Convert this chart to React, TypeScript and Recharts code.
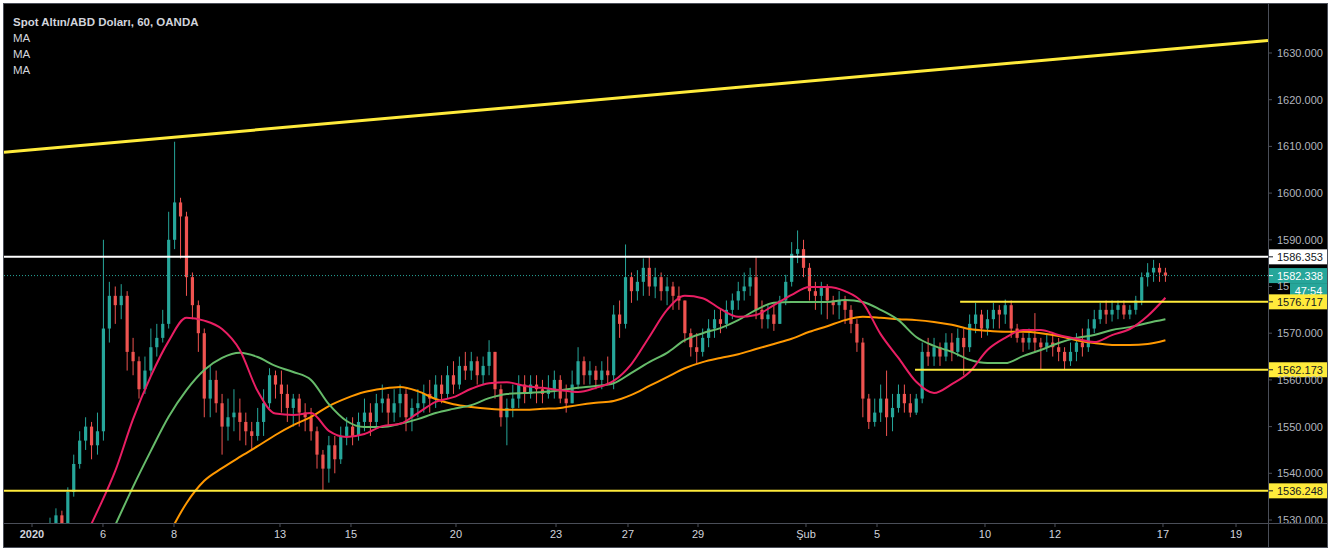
import React from 'react';
import { ComposedChart, Bar, Line, XAxis, YAxis, ReferenceLine } from 'recharts';

// ---- Data (4-hour aggregation) ----
const FIRST_OPEN = 1527;
const closes = [
  1529, 1531, 1529, 1536, 1542, 1547, 1550, 1546, 1549, 1571,
  1578, 1576, 1578, 1566, 1564, 1558, 1562, 1567, 1569, 1572,
  1590, 1598, 1595, 1582, 1576, 1570, 1556, 1560, 1555, 1550,
  1552, 1553, 1551, 1549, 1548, 1551, 1555, 1561, 1559, 1557,
  1554, 1556, 1553, 1552, 1549, 1544, 1541, 1546, 1543, 1548,
  1550, 1548, 1551, 1553, 1551, 1555, 1556, 1553, 1555, 1557,
  1552, 1554, 1555, 1557, 1556, 1559, 1557, 1561, 1559, 1563,
  1562, 1564, 1561, 1563, 1566, 1558, 1552, 1554, 1556, 1559,
  1557, 1559, 1558, 1557, 1558, 1560, 1556, 1555, 1559, 1564,
  1561, 1562, 1560, 1562, 1561, 1574, 1572, 1582, 1579, 1581,
  1584, 1580, 1582, 1579, 1580, 1578, 1577, 1570, 1567, 1566,
  1569, 1571, 1573, 1572, 1575, 1577, 1579, 1580, 1582, 1575,
  1573, 1574, 1572, 1577, 1581, 1587, 1588, 1584, 1579, 1578,
  1580, 1577, 1576, 1577, 1575, 1572, 1568, 1556, 1551, 1553,
  1556, 1552, 1554, 1557, 1555, 1553, 1556, 1566, 1565, 1567,
  1565, 1568, 1566, 1569, 1567, 1572, 1574, 1571, 1573, 1575,
  1574, 1576, 1571, 1569, 1568, 1569, 1568, 1567, 1568, 1567,
  1566, 1564, 1566, 1568, 1567, 1571, 1573, 1575, 1574, 1575,
  1576, 1574, 1575, 1577, 1582, 1583, 1584, 1583, 1582.3,
];
const highs = [
  1530.5, 1532.5, 1532, 1537, 1544, 1549, 1552, 1551, 1553, 1590,
  1581, 1580, 1580.5, 1579, 1569, 1565, 1565, 1571, 1572, 1575,
  1596, 1611, 1599, 1596, 1583, 1577, 1571, 1563, 1562, 1557,
  1556, 1558, 1556, 1553, 1551, 1554, 1558, 1562.5, 1562, 1562,
  1559, 1557, 1557, 1555, 1554, 1550, 1545, 1548, 1548, 1550,
  1552, 1552, 1553, 1556, 1555, 1557, 1559, 1557, 1558, 1559,
  1558, 1556, 1558, 1559, 1560, 1561, 1561, 1563, 1564, 1565,
  1566, 1566, 1565, 1565, 1568.5, 1566, 1559, 1556, 1559, 1561,
  1561, 1561, 1561, 1560, 1561, 1562, 1561, 1559, 1562, 1567,
  1565, 1564, 1563, 1564, 1565, 1576, 1577, 1589, 1583, 1583.5,
  1586, 1586.3, 1584, 1583, 1582, 1581, 1580, 1577, 1571, 1570,
  1571, 1573, 1575, 1575, 1577, 1578.5, 1581, 1583, 1584, 1586.3,
  1577, 1576, 1576, 1578, 1582.5, 1589.5, 1592, 1590, 1585, 1581,
  1581, 1580.5, 1578, 1579, 1578, 1576, 1573, 1569, 1557, 1556,
  1559, 1562, 1557, 1559, 1559, 1557, 1557, 1568, 1569, 1569,
  1568, 1570, 1570, 1571, 1571, 1574, 1576.5, 1575, 1575, 1576.5,
  1576, 1577.2, 1577, 1572, 1570, 1571, 1574.3, 1569, 1570, 1569.5,
  1569, 1567, 1568, 1570, 1571, 1573, 1575, 1576.5, 1577, 1577,
  1577, 1577, 1576, 1578, 1583, 1585, 1585.7, 1585, 1584,
];
const lows = [
  1525, 1527, 1526, 1528, 1535, 1541, 1545, 1543, 1544, 1547,
  1568, 1572, 1573, 1562, 1561, 1556, 1557, 1561, 1565, 1568,
  1571, 1588, 1586, 1578, 1573, 1566, 1552, 1552, 1553, 1544,
  1547, 1549, 1547, 1546, 1545, 1547, 1548, 1554, 1556, 1553,
  1551, 1550, 1550, 1549, 1547, 1541, 1536.3, 1538, 1540, 1542,
  1546, 1546, 1547, 1549, 1548, 1550, 1553, 1550, 1551, 1552,
  1549, 1549, 1552, 1553, 1553, 1554, 1555, 1556, 1557, 1558,
  1560, 1560, 1559, 1559, 1561, 1556, 1550, 1546, 1552, 1554,
  1555, 1556, 1555, 1555, 1556, 1556, 1555, 1553, 1555, 1558,
  1559, 1559, 1558, 1558, 1559, 1558, 1569, 1571, 1576.5, 1577,
  1578, 1578, 1577.5, 1577, 1576, 1575, 1575, 1568, 1565, 1563.6,
  1565, 1567, 1569, 1570, 1571, 1573, 1575, 1577, 1578, 1573,
  1571, 1571, 1570.5, 1572, 1576, 1580, 1585, 1582, 1577, 1575,
  1574, 1573, 1574, 1573, 1572, 1570, 1566, 1552, 1549.5, 1550,
  1551, 1548, 1549, 1553, 1553, 1552, 1552.5, 1555, 1563, 1563,
  1563, 1564, 1564, 1565, 1561, 1566, 1570, 1569, 1569.5, 1571,
  1571, 1572, 1569, 1568, 1566, 1566.5, 1566, 1562.1, 1566, 1565,
  1564, 1562.1, 1563, 1564, 1565, 1566, 1570, 1572, 1572, 1572.5,
  1573, 1573, 1573, 1574, 1576, 1580, 1581, 1581, 1581,
];

// Moving averages, read every 3rd bar starting at bar 2
const MA_START = 2;
const MA_STEP = 3;
const maFast = [
  null, 1524, 1531.9, 1540.5, 1551.6, 1560.8, 1568.3, 1573.3, 1572.7, 1570.9,
  1566.4, 1557.6, 1552.8, 1552.5, 1552.9, 1549.1, 1547.8, 1548.4, 1550.1, 1550.6,
  1552.9, 1555.3, 1556.3, 1558.1, 1559.3, 1559.5, 1558.7, 1558.3, 1557.8, 1557.4,
  1558.3, 1559.8, 1563.4, 1569.2, 1575.0, 1578.0, 1577.5, 1575.2, 1573.5, 1573.9,
  1576.0, 1578.2, 1579.9, 1579.9, 1579.0, 1576.5, 1569.8, 1564.7, 1559.6, 1557.2,
  1559.1, 1561.7, 1566.4, 1569.0, 1570.7, 1570.7, 1569.6, 1568.8, 1568.1, 1569.6,
  1570.9, 1573.7, 1577.6,
];
const maMid = [
  null, null, null, 1528.9, 1537.1, 1544.8, 1552.1, 1557.8, 1562.1, 1564.7,
  1565.8, 1564.9, 1563.0, 1561.7, 1560.0, 1554.8, 1551.2, 1549.9, 1549.9, 1550.6,
  1551.6, 1552.9, 1553.8, 1554.6, 1556.1, 1557.0, 1557.2, 1557.4, 1557.8, 1558.3,
  1558.7, 1559.3, 1561.5, 1563.8, 1565.8, 1568.5, 1570.0, 1571.1, 1572.8, 1575.0,
  1576.5, 1576.7, 1576.7, 1576.7, 1577.1, 1576.7, 1575.0, 1572.8, 1569.2, 1567.3,
  1566.0, 1564.3, 1563.6, 1563.6, 1565.1, 1566.4, 1567.9, 1569.0, 1569.6, 1570.7,
  1571.3, 1572.2, 1573.0,
];
const maSlow = [
  null, null, null, null, null, null, 1526.8, 1533.6, 1538.4, 1541.1,
  1543.5, 1545.8, 1548.2, 1550.3, 1552.1, 1554.4, 1556.1, 1557.4, 1558.1, 1558.5,
  1557.6, 1555.9, 1554.8, 1554.2, 1553.8, 1553.6, 1553.6, 1553.8, 1554.0, 1554.6,
  1555.1, 1555.5, 1556.8, 1558.7, 1560.6, 1562.5, 1563.8, 1564.7, 1565.5, 1566.6,
  1567.7, 1568.8, 1570.3, 1571.5, 1572.8, 1573.5, 1573.3, 1573.0, 1572.8, 1572.4,
  1571.8, 1570.9, 1570.5, 1570.3, 1570.3, 1570.0, 1569.4, 1568.5, 1567.9, 1567.5,
  1567.5, 1567.7, 1568.5,
];

// Time axis (bar units) and labels
const xTickPos = [-3.03, 8.93, 20.9, 38.77, 50.73, 68.43, 85.29, 97.42, 109.22, 127.42, 139.39, 157.59, 169.39, 187.59, 199.9];
const xTickLabels = ['2020', '6', '8', '13', '15', '20', '23', '27', '29', 'Şub', '5', '10', '12', '17', '19'];
const X_DOMAIN = [-7.75, 205.29];
const Y_DOMAIN = [1529.36, 1640.49];
const yTicks = [1530, 1540, 1550, 1560, 1570, 1580, 1590, 1600, 1610, 1620, 1630];
// price-scale tick whose label is mostly covered by the countdown tag (only "15" shows)
const yTickUnderCountdown = 1580;

// Drawn levels
const trendStart = { x: -7.75, y: 1608.76 };
const trendEnd = { x: 205.29, y: 1632.68 };
const levelResistance = 1586.353;
const levelLast = 1582.338;
const levelUpper = 1576.717;
const upperStartBar = 153.4;
const levelLower = 1562.173;
const lowerStartBar = 145.8;
const levelBase = 1536.248;
const countdown = '47:54';

const title = 'Spot Altın/ABD Doları, 60, OANDA';
const indicatorLabels = ['MA', 'MA', 'MA'];

// ---- Styles ----
const UP = '#26a69a';
const DOWN = '#ef5350';
const YELLOW = '#ffeb3b';
const FONT = '"Liberation Sans", Arial, sans-serif';
const FRAME = '#4a4e58';

const table = closes.map((c, i) => {
  const o = i === 0 ? FIRST_OPEN : closes[i - 1];
  const hi = Math.max(highs[i], o, c);
  const lo = Math.min(lows[i], o, c);
  const k = (i - MA_START) / MA_STEP;
  const onSample = Number.isInteger(k) && k >= 0;
  return {
    i,
    o,
    c,
    hi,
    lo,
    range: [lo, hi],
    fast: onSample ? maFast[k] ?? null : null,
    mid: onSample ? maMid[k] ?? null : null,
    slow: onSample ? maSlow[k] ?? null : null,
  };
});

const Candle = (props: any) => {
  const { x, y, width, height, payload } = props;
  if (!payload || x == null || y == null) return null;
  const top = Math.min(y, y + height);
  const h = Math.abs(height);
  const { o, c, hi, lo } = payload;
  const span = hi - lo || 1;
  const toY = (v: number) => top + ((hi - v) / span) * h;
  const color = c >= o ? UP : DOWN;
  const cx = x + width / 2;
  const bTop = toY(Math.max(o, c));
  const bBot = toY(Math.min(o, c));
  return (
    <g>
      <line x1={cx} x2={cx} y1={top} y2={top + h} stroke={color} strokeWidth={1} />
      <rect x={cx - 1.6} y={bTop} width={3.2} height={Math.max(1, bBot - bTop)} fill={color} />
    </g>
  );
};

const PriceTag = (props: any) => {
  const { viewBox, text, bg, fg, extra } = props;
  if (!viewBox) return null;
  const x = viewBox.x + viewBox.width;
  const y = viewBox.y;
  return (
    <g>
      <rect x={x + 1} y={y - 7.5} width={58} height={15} fill={bg} />
      <line x1={x + 1} x2={x + 5} y1={y} y2={y} stroke={fg} strokeWidth={1} />
      <text x={x + 9} y={y + 4} fontSize={11} fontFamily={FONT} fill={fg}>{text}</text>
      {extra ? (
        <g>
          <rect x={x + 22} y={y + 7.5} width={37} height={15} fill={bg} />
          <text x={x + 40.5} y={y + 19} fontSize={11} fontFamily={FONT} fill={fg} textAnchor="middle">{extra}</text>
        </g>
      ) : null}
    </g>
  );
};

const XTick = (props: any) => {
  const { x, y, payload } = props;
  const idx = xTickPos.indexOf(payload.value);
  const label = idx >= 0 ? xTickLabels[idx] : '';
  return (
    <text x={x} y={y} dy="0.72em" textAnchor="middle" fontSize={11} fontFamily={FONT}
      fontWeight={idx === 0 ? 'bold' : 'normal'} fill="#d1d4dc">{label}</text>
  );
};

const YTick = (props: any) => {
  const { x, y, payload } = props;
  const full = Number(payload.value).toFixed(3);
  // the countdown tag covers everything but the first two characters
  const label = payload.value === yTickUnderCountdown ? full.slice(0, 2) : full;
  return (
    <text x={x} y={y} dy="0.355em" textAnchor="start" fontSize={11} fontFamily={FONT} fill="#b2b5be">{label}</text>
  );
};

export default function App() {
  const W = 1323;
  const H = 543;
  return (
    <div style={{ position: 'absolute', left: 3, top: 3, width: W, height: H, border: `1px solid ${FRAME}`, background: '#000', overflow: 'hidden' }}>
      <ComposedChart width={W} height={H} data={table} margin={{ top: 0, right: 0, bottom: 0, left: 0 }}>
        <XAxis dataKey="i" type="number" domain={X_DOMAIN} allowDataOverflow ticks={xTickPos}
          height={24} axisLine={false} tickLine={{ stroke: FRAME }} tickSize={4} tickMargin={3}
          tick={<XTick />} interval={0} />
        <YAxis orientation="right" type="number" domain={Y_DOMAIN} allowDataOverflow ticks={yTicks}
          width={59} axisLine={false} tickLine={{ stroke: FRAME }} tickSize={4} tickMargin={5}
          tick={<YTick />} interval={0} />
        <Bar dataKey="range" shape={<Candle />} barSize={4} isAnimationActive={false} />
        <Line dataKey="slow" type="monotone" stroke="#ff9800" strokeWidth={2} dot={false} connectNulls isAnimationActive={false} />
        <Line dataKey="mid" type="monotone" stroke="#66bb6a" strokeWidth={2} dot={false} connectNulls isAnimationActive={false} />
        <Line dataKey="fast" type="monotone" stroke="#e91e63" strokeWidth={2} dot={false} connectNulls isAnimationActive={false} />
        <ReferenceLine segment={[trendStart, trendEnd]} stroke={YELLOW} strokeWidth={3} ifOverflow="visible" />
        <ReferenceLine y={levelLast} stroke={UP} strokeWidth={1} strokeDasharray="1 2" ifOverflow="visible"
          label={<PriceTag text={levelLast.toFixed(3)} bg={UP} fg="#ffffff" extra={countdown} />} />
        <ReferenceLine y={levelResistance} stroke="#ffffff" strokeWidth={2} ifOverflow="visible"
          label={<PriceTag text={levelResistance.toFixed(3)} bg="#ffffff" fg="#131722" />} />
        <ReferenceLine segment={[{ x: upperStartBar, y: levelUpper }, { x: X_DOMAIN[1], y: levelUpper }]} stroke={YELLOW} strokeWidth={2} ifOverflow="visible"
          label={<PriceTag text={levelUpper.toFixed(3)} bg={YELLOW} fg="#131722" />} />
        <ReferenceLine segment={[{ x: lowerStartBar, y: levelLower }, { x: X_DOMAIN[1], y: levelLower }]} stroke={YELLOW} strokeWidth={2} ifOverflow="visible"
          label={<PriceTag text={levelLower.toFixed(3)} bg={YELLOW} fg="#131722" />} />
        <ReferenceLine y={levelBase} stroke={YELLOW} strokeWidth={2} ifOverflow="visible"
          label={<PriceTag text={levelBase.toFixed(3)} bg={YELLOW} fg="#131722" />} />
      </ComposedChart>
      <div style={{ position: 'absolute', left: 1264, top: 0, width: 1, height: H, background: FRAME }} />
      <div style={{ position: 'absolute', left: 0, top: 519, width: W, height: 1, background: FRAME }} />
      <div style={{ position: 'absolute', left: 9, top: 10, fontFamily: FONT, color: '#d1d4dc', fontSize: 11.5, lineHeight: '16px' }}>
        <div style={{ fontWeight: 'bold' }}>{title}</div>
        {indicatorLabels.map((t, i) => (<div key={i}>{t}</div>))}
      </div>
    </div>
  );
}
